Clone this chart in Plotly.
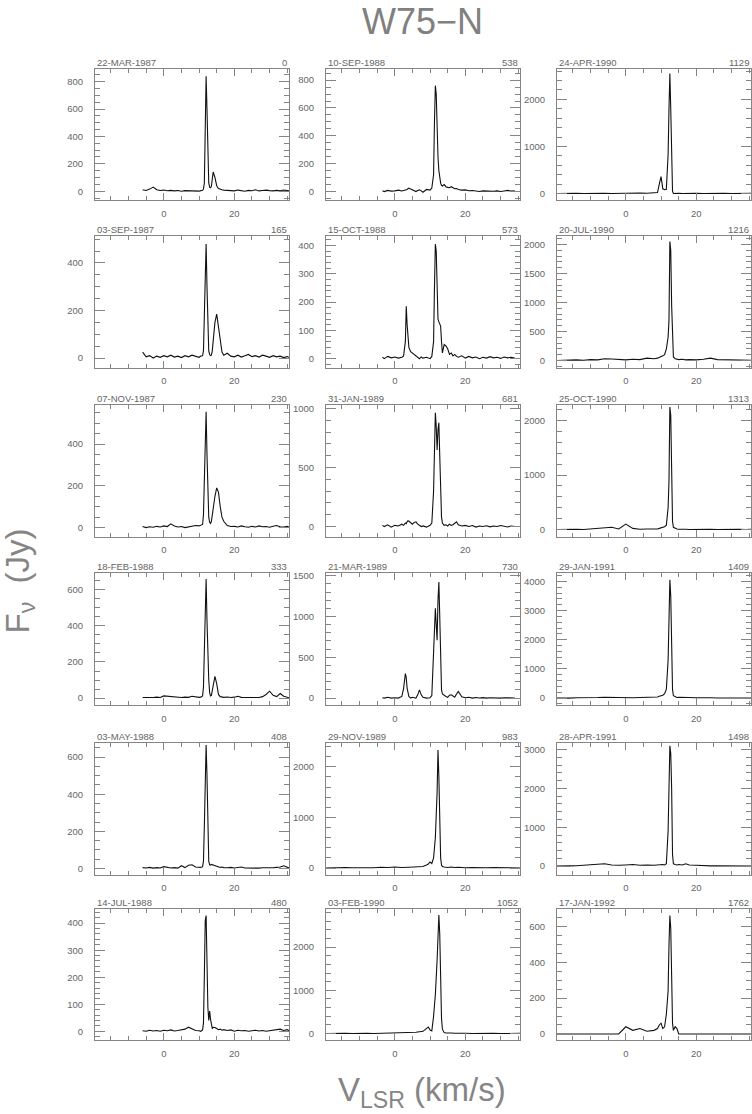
import plotly.graph_objects as go

W, H = 752, 1114

# velocity grids (km/s)
V_EARLY = [-6, -5, -4, -3, -2, -1, 0, 1, 2, 3,
           4, 5, 6, 7, 8, 9, 10, 10.5, 11, 11.25,
           11.5, 11.75, 12.0, 12.25, 12.5, 12.75, 13.0, 13.25, 13.5, 13.75,
           14.0, 14.5, 15.0, 15.5, 16.0, 16.5, 17, 18, 19, 20,
           21, 22, 23, 24, 25, 26, 27, 28, 29, 30,
           31, 32, 33, 34, 35, 35.5]
V_MID = [-3.5, -3, -2, -1, 0, 1, 2, 2.5, 3, 3.25,
         3.5, 3.75, 4, 4.5, 5, 5.5, 6, 6.5, 7, 7.5,
         8, 9, 10, 10.5, 11, 11.25, 11.5, 11.75, 12.0, 12.25,
         12.5, 12.75, 13.0, 13.25, 13.5, 14, 14.5, 15, 15.5, 16,
         16.5, 17, 17.5, 18, 19, 20, 21, 22, 23, 24,
         25, 26, 27, 28, 29, 30, 31, 32, 33, 34]
V_FULL = [-19.5, -18, -16, -14, -12, -10, -8, -6, -4, -2,
          0, 2, 4, 6, 8, 9, 9.5, 10, 10.5, 11,
          11.5, 12, 12.25, 12.5, 12.75, 13, 13.25, 13.5, 14, 14.5,
          15, 16, 17, 18, 20, 22, 24, 26, 28, 30,
          32, 34, 35.5]

# flux density (Jy), one spectrum per epoch
F_870322 = [10, 5, 15, 30, 10, 5, 8, 3, 6, 2, 5, 0, 4, 2, 5, 3, 0, 4, 6, 15,
            60, 450, 840, 600, 200, 60, 30, 25, 35, 90, 140, 100, 40, 20, 12, 10, 8, 5, 6, 2,
            8, 4, 0, 6, 3, 10, 2, 5, 8, 4, 2, 6, 3, 9, 5, 2]
F_870903 = [25, 5, 10, 0, 8, 3, 10, 5, 12, 4, 8, 2, 10, 5, 12, 6, 3, 8, 10, 30,
            200, 420, 480, 300, 100, 30, 15, 10, 12, 30, 70, 150, 185, 130, 60, 25, 12, 20, 8, 5,
            12, 4, 10, 15, 6, 10, 4, 12, 8, 3, 10, 5, 8, 2, 6, 3]
F_871107 = [5, 0, 4, 2, 6, 3, 8, 5, 18, 8, 3, 5, 0, 4, 6, 10, 8, 12, 15, 60,
            290, 480, 555, 350, 130, 50, 25, 20, 30, 60, 100, 150, 190, 170, 100, 50, 30, 10, 5, 6,
            3, 8, 4, 2, 6, 3, 8, 4, 5, 2, 6, 10, 4, 3, 6, 2]
F_880218 = [3, 2, 4, 3, 5, 3, 12, 10, 5, 3, 2, 3, 5, 4, 10, 6, 4, 5, 12, 60,
            300, 600, 660, 430, 200, 100, 30, 12, 15, 40, 80, 120, 80, 20, 8, 5, 4, 6, 3, 5,
            10, 4, 3, 5, 2, 4, 3, 8, 20, 38, 15, 8, 25, 10, 3, 2]
F_880503 = [5, 3, 6, 2, 5, 3, 10, 6, 3, 5, 2, 15, 5, 18, 20, 8, 4, 6, 10, 40,
            230, 560, 665, 500, 110, 40, 20, 18, 22, 20, 18, 14, 10, 8, 6, 8, 5, 4, 6, 3,
            5, 8, 3, 2, 5, 3, 2, 4, 3, 5, 4, 6, 8, 15, 5, 3]
F_880714 = [2, 0, 4, 1, 3, 0, 4, 2, 5, 1, 3, 6, 8, 15, 8, 3, 2, 0, 5, 30,
            205, 410, 428, 180, 90, 40, 75, 45, 20, 10, 15, 14, 10, 6, 8, 4, 6, 3, 5, 0,
            4, 2, 3, 0, 2, 4, 1, 3, 0, 2, 3, 5, 8, 3, 6, 2]
F_880910 = [5, 0, 8, 3, 5, 10, 4, 8, 12, 10, 15, 20, 25, 18, 10, 5, 0, 8, 12, 5,
            -5, 15, 10, 25, 120, 500, 760, 700, 400, 250, 150, 80, 60, 45, 40, 50, 35, 30, 28, 35,
            25, 20, 22, 15, 10, 12, 6, 8, 4, 0, 5, 3, 6, 2, 5, 0, 4, 8, 3, 5]
F_881015 = [5, 0, 8, 3, 6, 2, 5, 10, 60, 185, 120, 60, 40, 25, 20, 12, 8, 5, 0, 6,
            2, 5, 0, 8, 60, 250, 405, 380, 250, 140, 130, 125, 115, 60, 20, 50, 45, 35, 15, 20,
            10, 15, 8, 5, 10, 2, 8, 3, 6, 0, 5, 2, 7, 3, 5, 1, 6, 3, 5, 2]
F_890131 = [10, 0, 15, -5, 10, 5, 20, 10, 30, 25, 40, 50, 45, 30, 20, 35, 40, 20, 10, 0,
            5, -5, 10, 30, 300, 750, 965, 850, 650, 820, 880, 600, 250, 80, 30, 10, 15, 5, 20, 10,
            15, 30, 40, 15, 5, 10, 0, 8, -5, 5, 0, 6, -3, 4, 0, 8, 2, -4, 5, 0]
F_890321 = [5, 0, 10, 0, 5, 0, 20, 120, 300, 250, 120, 50, 20, 0, 10, 5, 0, 40, 100, 40,
            10, 0, 5, 30, 500, 900, 1100, 900, 710, 1200, 1424, 1000, 400, 100, 50, 30, 20, 10, 35, 40,
            20, 10, 50, 80, 15, 5, 10, 0, 8, 2, 6, 0, 5, 2, 8, 0, 5, 2, 6, 0]
F_891129 = [0, 5, 0, 10, 5, 0, 10, 5, 15, 10, 20, 10, 15, 20, 30, 60, 80, 120, 90, 200,
            600, 1500, 2330, 1800, 800, 200, 60, 30, 20, 15, 10, 20, 10, 15, 5, 10, 0, 5, 10, 5,
            0, 5, 2]
F_900203 = [0, 5, 0, 5, 0, 10, 5, 0, 5, 10, 5, 10, 20, 30, 50, 120, 150, 80, 60, 400,
            900, 1700, 2200, 2745, 2300, 1200, 350, 100, 20, 10, 5, 10, 5, 0, 5, 0, 5, 0, 5, 0,
            5, 0, 3]
F_900424 = [0, 5, 0, 5, 0, 5, 0, 5, 0, 5, 0, 5, 10, 5, 10, 20, 200, 360, 100, 80,
            90, 830, 1800, 2550, 1800, 500, 50, 0, 5, 0, 5, 0, 5, 0, 5, 0, 5, 0, 5, 0,
            5, 0, 3]
F_900720 = [0, 5, 0, 10, 5, 15, 10, 30, 25, 15, 10, 20, 15, 40, 30, 40, 50, 60, 80, 100,
            200, 400, 700, 2050, 1900, 950, 300, 60, 30, 20, 15, 20, 10, 15, 10, 20, 40, 15, 10, 5,
            8, 5, 3]
F_901025 = [0, 5, 0, 5, 0, 10, 20, 30, 40, 10, 100, 20, 5, 10, 5, 10, 20, 30, 40, 50,
            80, 400, 900, 2250, 2100, 700, 150, 40, 20, 10, 5, 10, 5, 0, 5, 0, 5, 0, 5, 0,
            5, 0, 3]
F_910129 = [0, 10, 0, 10, 5, 10, 20, 30, 20, 10, 20, 10, 20, 30, 20, 40, 60, 80, 100, 150,
            300, 1300, 3000, 4050, 3500, 1400, 300, 80, 40, 20, 30, 20, 10, 20, 10, 20, 10, 5, 10, 5,
            10, 5, 3]
F_910428 = [0, 10, 5, 10, 20, 30, 40, 60, 30, 20, 30, 40, 20, 30, 20, 30, 40, 50, 40, 30,
            60, 900, 1800, 3100, 2900, 2000, 300, 60, 40, 30, 40, 30, 60, 30, 20, 10, 5, 10, 5, 0,
            5, 0, 3]
F_920117 = [0, 0, 0, 0, 0, 0, 0, 0, 0, 0, 40, 20, 30, 15, 20, 30, 50, 60, 30, 40,
            110, 240, 498, 661, 590, 240, 60, 20, 40, 30, 0, 0, 0, 0, 0, 0, 0, 0, 0, 0,
            0, 0, 0]

DATES = ["22-MAR-1987", "03-SEP-1987", "07-NOV-1987", "18-FEB-1988", "03-MAY-1988", "14-JUL-1988",
         "10-SEP-1988", "15-OCT-1988", "31-JAN-1989", "21-MAR-1989", "29-NOV-1989", "03-FEB-1990",
         "24-APR-1990", "20-JUL-1990", "25-OCT-1990", "29-JAN-1991", "28-APR-1991", "17-JAN-1992"]
DAYS = ["0", "165", "230", "333", "408", "480",
        "538", "573", "681", "730", "983", "1052",
        "1129", "1216", "1313", "1409", "1498", "1762"]
VELS = [V_EARLY] * 6 + [V_MID] * 4 + [V_FULL] * 8
FLUXES = [F_870322, F_870903, F_871107, F_880218, F_880503, F_880714,
          F_880910, F_881015, F_890131, F_890321, F_891129, F_900203,
          F_900424, F_900720, F_901025, F_910129, F_910428, F_920117]

# axis setup per panel: (ymin, ymax, major step, minor step)
YAXES = [(-68, 895, 200, 50), (-42, 512, 200, 50), (-43, 588, 200, 50),
         (-39, 691, 200, 50), (-33, 676, 200, 50), (-33, 454, 100, 20),
         (-64, 881, 200, 50), (-33, 432, 100, 20), (-85, 1031, 500, 100),
         (-86, 1528, 500, 100), (-130, 2470, 1000, 200), (-155, 2893, 1000, 200),
         (-148, 2650, 1000, 200), (-130, 2140, 500, 100), (-130, 2290, 1000, 200),
         (-240, 4270, 1000, 200), (-220, 3170, 1000, 200), (-35, 700, 200, 50)]

COL_LEFT = [95, 326, 557]
ROW_TOP = [66, 234, 403, 572, 742, 908]
PW, PH = 194, 132

FRAME = "#858585"
TEXT = "#666666"
FONT = "Liberation Sans, Arial, sans-serif"

fig = go.Figure()
layout = {}
annotations = []

for i, (v, f) in enumerate(zip(VELS, FLUXES)):
    assert len(v) == len(f), (DATES[i], len(v), len(f))
    col, row = divmod(i, 6)
    n = i + 1
    xa = "xaxis" if n == 1 else f"xaxis{n}"
    ya = "yaxis" if n == 1 else f"yaxis{n}"
    x0 = COL_LEFT[col] / W
    x1 = (COL_LEFT[col] + PW) / W
    y1 = 1 - ROW_TOP[row] / H
    y0 = 1 - (ROW_TOP[row] + PH) / H

    fig.add_trace(go.Scatter(x=v, y=f, mode="lines", line=dict(color="#111111", width=1.1),
                             xaxis=f"x{n}", yaxis=f"y{n}", showlegend=False, hoverinfo="skip"))

    layout[xa] = dict(
        domain=[x0, x1], anchor=f"y{n}", range=[-19.5, 35.5],
        showline=True, linecolor=FRAME, linewidth=1, mirror="allticks",
        ticks="inside", ticklen=7, tickcolor=FRAME,
        tickmode="array", tickvals=[0, 20],
        minor=dict(tickmode="linear", tick0=0, dtick=5, ticks="inside", ticklen=4, tickcolor=FRAME),
        showgrid=False, zeroline=False, ticklabelstandoff=4,
        tickfont=dict(family=FONT, size=9.5, color=TEXT),
    )
    ymin, ymax, major, minor = YAXES[i]
    layout[ya] = dict(
        domain=[y0, y1], anchor=f"x{n}", range=[ymin, ymax],
        showline=True, linecolor=FRAME, linewidth=1, mirror="allticks",
        ticks="inside", ticklen=10, tickcolor=FRAME,
        tickmode="linear", tick0=0, dtick=major,
        minor=dict(tickmode="linear", tick0=0, dtick=minor, ticks="inside", ticklen=5, tickcolor=FRAME),
        showgrid=False, zeroline=False, ticklabelstandoff=9,
        tickfont=dict(family=FONT, size=9.5, color=TEXT),
    )
    annotations.append(dict(text=DATES[i], x=x0, y=y1, xref="paper", yref="paper",
                            xanchor="left", yanchor="bottom", showarrow=False, yshift=-1,
                            font=dict(family=FONT, size=9.5, color=TEXT)))
    annotations.append(dict(text=DAYS[i], x=x1, y=y1, xref="paper", yref="paper",
                            xanchor="right", yanchor="bottom", showarrow=False, yshift=-1,
                            font=dict(family=FONT, size=9.5, color=TEXT)))

annotations.append(dict(text="W75\u2212N", x=422 / W, y=1 - 19 / H, xref="paper", yref="paper",
                        xanchor="center", yanchor="middle", showarrow=False,
                        font=dict(family=FONT, size=36, color="#808080")))
annotations.append(dict(text="V<sub>LSR</sub> (km/s)", x=422 / W, y=1 - 1092 / H,
                        xref="paper", yref="paper", xanchor="center", yanchor="middle",
                        showarrow=False, font=dict(family=FONT, size=33, color="#858585")))
annotations.append(dict(text="F<sub>\u03bd</sub>\u00a0\u00a0(Jy)", x=20 / W, y=1 - 580 / H,
                        xref="paper", yref="paper", xanchor="center", yanchor="middle",
                        textangle=-90, showarrow=False,
                        font=dict(family=FONT, size=33, color="#858585")))

fig.update_layout(
    width=W, height=H, margin=dict(l=0, r=0, t=0, b=0),
    paper_bgcolor="white", plot_bgcolor="white",
    annotations=annotations, **layout,
)

# drop the page's default body margin so the figure sits at the window origin
fig.write_html("out.html", config={"displayModeBar": False},
               post_script="document.body.style.margin='0';")
